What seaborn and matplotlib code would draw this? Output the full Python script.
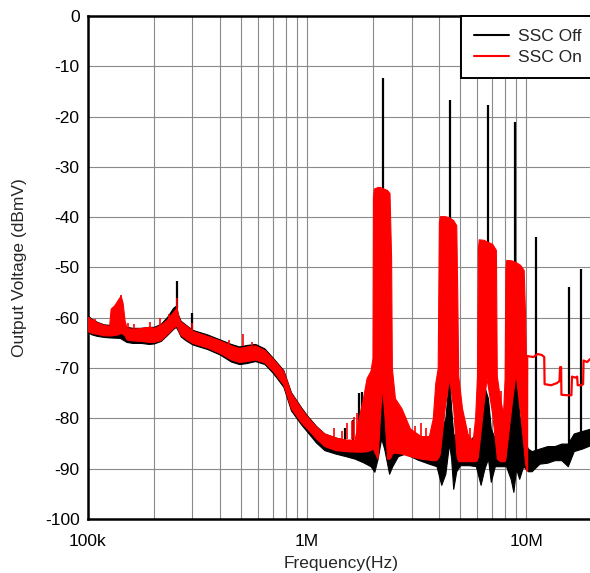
import numpy as np
import seaborn as sns
import matplotlib.pyplot as plt
from matplotlib.lines import Line2D
from matplotlib.ticker import LogLocator, NullFormatter

# SSC On (red) envelope: frequency (MHz), lower / upper level (dBmV)
on_freq = [0.100, 0.104, 0.110, 0.118, 0.125, 0.127, 0.132, 0.137, 0.141, 0.144,
           0.147, 0.150, 0.160, 0.175, 0.190, 0.200, 0.215, 0.230, 0.245, 0.254,
           0.258, 0.265, 0.280, 0.300, 0.350, 0.400, 0.450, 0.490, 0.530, 0.580,
           0.640, 0.700, 0.780, 0.845, 0.940, 1.00, 1.10, 1.20, 1.35, 1.50,
           1.65, 1.72, 1.80, 1.87, 1.95, 1.99, 2.00, 2.02, 2.10, 2.15,
           2.20, 2.26, 2.32, 2.38, 2.42, 2.44, 2.52, 2.70, 2.95, 3.30,
           3.60, 3.75, 3.85, 3.95, 4.00, 4.04, 4.25, 4.45, 4.65, 4.80,
           4.85, 4.90, 5.10, 5.40, 5.70, 5.85, 5.97, 6.03, 6.08, 6.40,
           6.60, 7.00, 7.28, 7.35, 7.60, 7.85, 7.98, 8.05, 8.12, 8.60,
           8.95, 9.40, 9.75, 9.90, 10.05, 10.10]
on_lo = [-62.7, -63.0, -63.2, -63.5, -63.5, -63.5, -63.4, -63.3, -63.0, -63.2,
         -63.5, -64.3, -64.5, -64.6, -64.8, -64.8, -64.4, -63.2, -62.0, -61.5,
         -62.4, -63.4, -64.2, -65.0, -65.9, -67.0, -68.3, -68.8, -68.6, -68.3,
         -68.9, -70.6, -73.3, -78.0, -80.8, -82.0, -84.0, -85.5, -86.3, -86.5,
         -86.6, -86.6, -86.6, -86.5, -86.3, -86.0, -86.0, -86.5, -88.0, -80.0,
         -73.5, -80.0, -88.0, -88.0, -87.5, -87.0, -86.8, -87.0, -87.5, -88.0,
         -88.2, -88.3, -88.3, -88.0, -87.5, -87.0, -78.0, -72.0, -78.0, -87.0,
         -88.0, -88.5, -88.5, -88.5, -88.5, -88.5, -88.3, -87.5, -86.0, -77.0,
         -72.0, -79.0, -86.0, -88.0, -88.5, -88.5, -88.5, -88.0, -86.5, -77.0,
         -71.0, -79.0, -86.0, -89.0, -90.3, -90.3]
on_hi = [-59.8, -60.3, -60.9, -61.4, -61.6, -58.2, -57.5, -56.4, -55.6, -57.0,
         -60.5, -62.0, -62.2, -62.0, -61.8, -62.0, -61.4, -60.3, -58.8, -58.0,
         -59.6, -60.8, -61.5, -62.6, -63.6, -64.5, -65.5, -66.0, -65.7, -65.5,
         -66.4, -68.2, -70.6, -75.0, -78.0, -79.6, -81.6, -83.0, -83.8, -84.2,
         -84.2, -80.0, -76.0, -72.0, -70.5, -68.0, -36.0, -34.3, -34.0, -34.0,
         -34.2, -34.4, -34.6, -35.2, -48.0, -70.0, -76.0, -78.0, -82.0, -83.5,
         -83.5, -80.0, -73.0, -70.0, -41.0, -39.8, -39.8, -40.0, -40.6, -41.6,
         -55.0, -71.5, -78.0, -83.0, -84.5, -80.0, -71.6, -46.0, -44.4, -44.5,
         -44.8, -45.3, -46.5, -71.6, -76.0, -79.0, -72.0, -50.0, -48.5, -48.6,
         -48.9, -49.5, -50.5, -60.0, -75.0, -88.0]

# SSC On trace above 10 MHz (single stepped line)
tail_freq = [10.10, 10.12, 10.8, 11.3, 11.8, 12.1, 12.15, 13.0, 13.8, 14.2,
             14.3, 14.45, 14.5, 15.5, 16.1, 16.2, 16.8, 17.1, 17.2, 17.9,
             18.2, 18.3, 19.0, 19.6, 20.5]
tail_db = [-90.3, -67.6, -67.8, -67.2, -67.4, -67.8, -73.2, -73.4, -73.0, -72.6,
           -69.8, -69.8, -75.3, -75.4, -75.4, -71.7, -71.9, -71.7, -73.4, -73.4,
           -73.2, -68.5, -68.8, -68.2, -69.2]

# SSC Off (black) envelope
off_freq = [0.100, 0.104, 0.110, 0.118, 0.125, 0.140, 0.150, 0.160, 0.175, 0.190,
            0.200, 0.215, 0.230, 0.245, 0.252, 0.258, 0.265, 0.280, 0.300, 0.350,
            0.400, 0.450, 0.490, 0.530, 0.580, 0.640, 0.700, 0.780, 0.845, 0.940,
            1.00, 1.10, 1.20, 1.35, 1.50, 1.65, 1.80, 1.95, 2.03, 2.10,
            2.18, 2.25, 2.31, 2.37, 2.45, 2.60, 2.80, 3.20, 3.60, 3.90,
            4.10, 4.28, 4.45, 4.55, 4.65, 4.80, 5.00, 5.50, 5.90, 6.20,
            6.45, 6.70, 6.90, 7.20, 7.60, 8.10, 8.50, 8.75, 9.00, 9.30,
            9.70, 10.2, 10.6, 11.5, 12.5, 13.5, 14.5, 15.5, 16.5, 18.0,
            20.5]
off_lo = [-62.9, -63.3, -63.6, -63.8, -63.9, -64.0, -64.8, -65.0, -65.0, -65.2,
          -65.1, -64.6, -63.4, -62.2, -61.8, -62.6, -63.7, -64.5, -65.3, -66.2,
          -67.3, -68.7, -69.2, -69.0, -68.6, -69.2, -71.0, -73.7, -78.4, -81.2,
          -82.6, -84.8, -86.3, -87.0, -87.5, -88.0, -88.7, -89.5, -90.6, -88.0,
          -84.0, -86.0, -88.5, -91.0, -89.5, -87.5, -87.0, -88.2, -89.0, -89.5,
          -93.2, -91.0, -85.0, -88.0, -94.0, -90.5, -89.3, -89.3, -89.5, -93.2,
          -90.0, -88.0, -92.6, -89.5, -89.5, -89.5, -92.0, -94.6, -90.0, -92.0,
          -89.5, -90.5, -90.5, -89.0, -88.8, -88.3, -88.3, -89.5, -86.5, -86.0,
          -85.0]
off_hi = [-59.6, -60.2, -60.8, -61.3, -61.4, -61.6, -61.8, -62.0, -62.0, -61.8,
          -61.8, -61.2, -59.8, -58.0, -57.6, -59.4, -60.6, -61.4, -62.4, -63.3,
          -64.3, -65.2, -65.7, -65.4, -65.2, -66.1, -68.0, -70.4, -74.8, -77.8,
          -79.4, -81.5, -83.0, -83.8, -84.3, -84.5, -85.0, -85.5, -85.0, -78.0,
          -73.5, -73.0, -80.0, -84.0, -85.0, -84.5, -84.0, -85.0, -85.5, -83.0,
          -82.0, -80.0, -71.7, -78.0, -83.0, -84.0, -85.0, -84.5, -83.0, -82.0,
          -73.7, -76.0, -82.0, -84.0, -84.0, -82.0, -80.0, -72.0, -70.7, -79.0,
          -84.0, -86.0, -86.5, -86.0, -85.5, -85.5, -85.0, -85.0, -83.0, -82.5,
          -81.8]

# narrow spurs: frequency (MHz), peak, foot
off_spur_freq = [0.255, 0.300, 1.49, 1.62, 1.73, 1.78, 2.23, 4.48, 6.67, 8.90,
                 11.15, 15.7, 17.9]
off_spur_top = [-52.6, -59.0, -82.0, -80.3, -75.0, -74.7, -12.3, -16.7, -17.7, -21.0,
                -43.9, -53.8, -50.4]
off_spur_foot = [-58.0, -63.0, -85.0, -85.0, -85.0, -85.0, -40.0, -45.0, -50.0, -55.0,
                 -88.0, -88.0, -86.0]

on_spur_freq = [0.108, 0.141, 0.152, 0.163, 0.193, 0.214, 0.235, 0.255, 0.300, 0.440,
                0.510, 0.560, 1.33, 1.45, 1.52, 1.60, 1.64, 1.69, 3.10, 3.30,
                3.50, 5.25, 5.55, 7.70]
on_spur_top = [-60.3, -55.5, -61.0, -61.2, -60.8, -60.0, -59.2, -56.0, -61.0, -64.5,
               -63.2, -64.8, -82.0, -82.5, -81.0, -80.5, -79.8, -79.0, -81.5, -81.0,
               -82.0, -80.5, -82.0, -74.5]
on_spur_foot = [-62.0, -60.0, -63.0, -63.0, -62.5, -62.0, -61.0, -59.0, -63.0, -66.0,
                -65.6, -66.0, -84.0, -84.0, -84.0, -84.0, -84.0, -84.0, -84.5, -84.5,
                -84.5, -84.0, -85.0, -80.0]

sns.set_theme(style='white')
plt.rcParams['font.family'] = ['Liberation Sans', 'DejaVu Sans']
plt.rcParams['axes.unicode_minus'] = False

fig = plt.figure(figsize=(5.9, 5.73), dpi=100)
ax = fig.add_axes([0.149, 0.0942, 0.86, 0.878])

mhz = 1e6
ax.fill_between(np.array(off_freq) * mhz, off_lo, off_hi, color='black', lw=0.8, zorder=2)
ax.vlines(np.array(off_spur_freq) * mhz, off_spur_foot, off_spur_top, color='black', lw=1.6, zorder=2)
ax.fill_between(np.array(on_freq) * mhz, on_lo, on_hi, color='red', lw=0.8, zorder=3)
ax.vlines(np.array(on_spur_freq) * mhz, on_spur_foot, on_spur_top, color='red', lw=1.2, zorder=3)
sns.lineplot(x=np.array(tail_freq) * mhz, y=tail_db, color='red', lw=1.6, ax=ax,
             sort=False, estimator=None, zorder=3)

ax.set_xscale('log')
ax.set_xlim(1e5, 2.07e7)
ax.set_ylim(-100, 0)
ax.set_xticks([1e5, 1e6, 1e7])
ax.set_xticklabels(['100k', '1M', '10M'])
ax.xaxis.set_minor_locator(LogLocator(base=10, subs=np.arange(2, 10)))
ax.xaxis.set_minor_formatter(NullFormatter())
ax.set_yticks(np.arange(-100, 1, 10))
ax.grid(which='both', color='#8a8a8a', lw=0.8, zorder=0)
ax.set_axisbelow(True)
ax.tick_params(which='both', length=0, labelsize=12.5, colors='black')
ax.tick_params(axis='x', pad=11)
ax.tick_params(axis='y', pad=6)

for side in ['left', 'top', 'bottom']:
    ax.spines[side].set_color('black')
    ax.spines[side].set_linewidth(1.8)
ax.spines['right'].set_visible(False)

ax.set_xlabel('Frequency(Hz)', fontsize=12.5, labelpad=5)
ax.set_ylabel('Output Voltage (dBmV)', fontsize=12.5)
ax.yaxis.set_label_coords(-0.12, 0.5)

handles = [Line2D([0], [0], color='black', lw=1.5), Line2D([0], [0], color='red', lw=1.5)]
leg = ax.legend(handles, ['SSC Off', 'SSC On'], loc='upper right', bbox_to_anchor=(1.0, 1.0),
                fontsize=12.5, frameon=True, fancybox=False, borderaxespad=0, borderpad=0.75,
                labelspacing=0.32, handlelength=2.0, handletextpad=0.55)
leg.get_frame().set_edgecolor('black')
leg.get_frame().set_linewidth(1.4)
leg.get_frame().set_alpha(1)
leg.set_zorder(10)

plt.savefig('out.png', dpi=100)
